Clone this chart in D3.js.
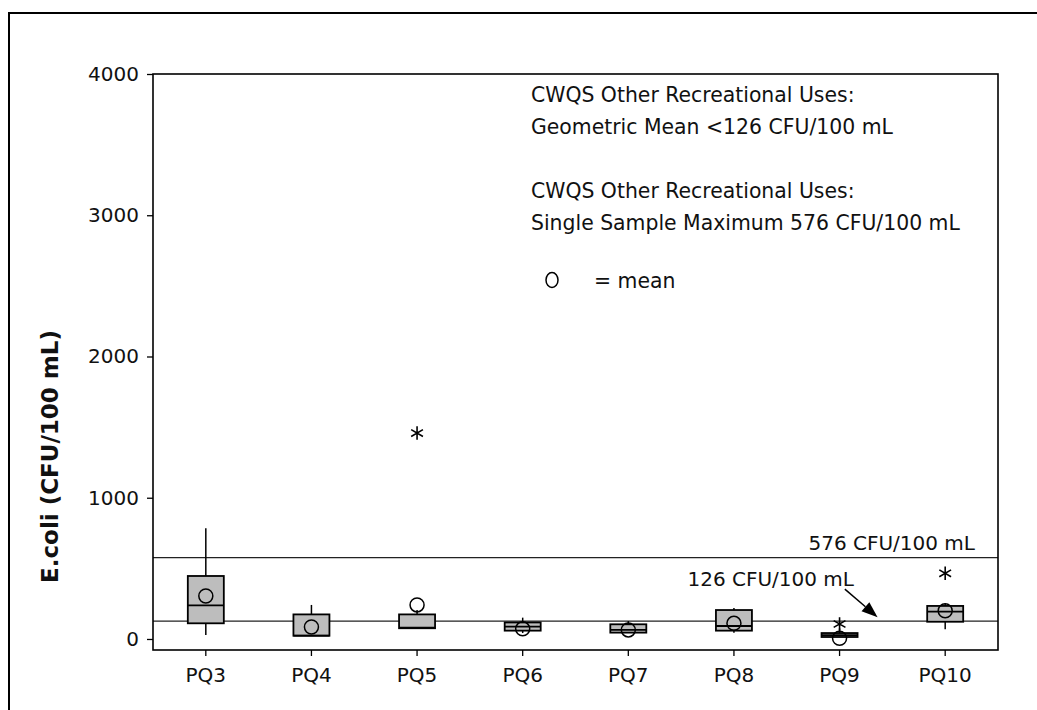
<!DOCTYPE html>
<html>
<head>
<meta charset="utf-8">
<script src="https://cdn.jsdelivr.net/npm/d3@7"></script>
<style>
  html, body { margin: 0; padding: 0; background: #fff; }
  svg { display: block; }
  text { font-family: "DejaVu Sans", Verdana, sans-serif; fill: #111; }
</style>
</head>
<body>
<svg id="chart" width="1037" height="710"></svg>
<script>
// ---- data ----
const categories   = ["PQ3", "PQ4", "PQ5", "PQ6", "PQ7", "PQ8", "PQ9", "PQ10"];
const whiskerLow   = [28, 23, 76, 42, 45, 45, 14, 69];
const q1Values     = [111, 23, 76, 59, 45, 59, 14, 122];
const medianValues = [238, 24, 80, 87, 65, 92, 28, 193];
const q3Values     = [446, 174, 174, 117, 104, 205, 42, 234];
const whiskerHigh  = [784, 241, 205, 151, 127, 219, 75, 252];
const meanValues   = [304, 85, 241, 72, 64, 111, 5, 200];
const outliers     = [{cat: "PQ5", value: 1458}, {cat: "PQ9", value: 106}, {cat: "PQ10", value: 465}];
const yTicks       = [0, 1000, 2000, 3000, 4000];
const refLines     = [126, 576];
const legendLines  = ["CWQS Other Recreational Uses:", "Geometric Mean <126 CFU/100 mL",
                      "CWQS Other Recreational Uses:", "Single Sample Maximum 576 CFU/100 mL"];
const yTitle       = "E.coli (CFU/100 mL)";

const boxes = categories.map((c, i) => ({
  cat: c, lo: whiskerLow[i], q1: q1Values[i], med: medianValues[i],
  q3: q3Values[i], hi: whiskerHigh[i], mean: meanValues[i]
}));

// ---- layout ----
const svg = d3.select("#chart");
const plot = {left: 153, right: 998, top: 74, bottom: 650};

const x = d3.scaleBand().domain(categories).range([plot.left, plot.right]).padding(0);
const y = d3.scaleLinear().domain([-78, 4000]).range([plot.bottom, plot.top]);
const cx = c => x(c) + x.bandwidth() / 2;
const boxW = 36;

// outer frame (only top & left visible)
svg.append("path")
  .attr("d", "M9,712 L9,13 L1040,13")
  .attr("fill", "none").attr("stroke", "#000").attr("stroke-width", 2);

// reference lines
svg.selectAll(".ref").data(refLines).join("line")
  .attr("x1", plot.left).attr("x2", plot.right)
  .attr("y1", d => y(d)).attr("y2", d => y(d))
  .attr("stroke", "#222").attr("stroke-width", 1.3);

// y axis
const yAxis = d3.axisLeft(y).tickValues(yTicks).tickFormat(d3.format("d"))
  .tickSize(6).tickSizeOuter(0).tickPadding(8);
const gy = svg.append("g").attr("transform", `translate(${plot.left},0)`).call(yAxis);
gy.select(".domain").remove();
gy.selectAll(".tick line").attr("stroke", "#000").attr("stroke-width", 1.3);
gy.selectAll(".tick text").style("font-family", '"DejaVu Sans", Verdana, sans-serif')
  .style("font-size", "20px").attr("fill", "#111");

// x axis
const xAxis = d3.axisBottom(x).tickSize(6).tickSizeOuter(0).tickPadding(12);
const gx = svg.append("g").attr("transform", `translate(0,${plot.bottom})`).call(xAxis);
gx.select(".domain").remove();
gx.selectAll(".tick line").attr("stroke", "#000").attr("stroke-width", 1.3);
gx.selectAll(".tick text").style("font-family", '"DejaVu Sans", Verdana, sans-serif')
  .style("font-size", "20px").attr("fill", "#111");

// plot frame
svg.append("rect")
  .attr("x", plot.left).attr("y", plot.top)
  .attr("width", plot.right - plot.left).attr("height", plot.bottom - plot.top)
  .attr("fill", "none").attr("stroke", "#000").attr("stroke-width", 1.6);

// whiskers
const g = svg.append("g");
g.selectAll(".wh").data(boxes).join("line")
  .attr("x1", d => cx(d.cat)).attr("x2", d => cx(d.cat))
  .attr("y1", d => y(d.hi)).attr("y2", d => y(d.lo))
  .attr("stroke", "#000").attr("stroke-width", 1.5);

// boxes
g.selectAll(".box").data(boxes).join("rect")
  .attr("x", d => cx(d.cat) - boxW / 2).attr("width", boxW)
  .attr("y", d => y(d.q3)).attr("height", d => Math.max(1, y(d.q1) - y(d.q3)))
  .attr("fill", "#bdbdbd").attr("stroke", "#000").attr("stroke-width", 1.8);

// medians
g.selectAll(".med").data(boxes).join("line")
  .attr("x1", d => cx(d.cat) - boxW / 2).attr("x2", d => cx(d.cat) + boxW / 2)
  .attr("y1", d => y(d.med)).attr("y2", d => y(d.med))
  .attr("stroke", "#000").attr("stroke-width", 1.8);

// means
g.selectAll(".mean").data(boxes).join("circle")
  .attr("cx", d => cx(d.cat)).attr("cy", d => y(d.mean)).attr("r", 7)
  .attr("fill", "none").attr("stroke", "#000").attr("stroke-width", 1.5);

// outliers
const star = d3.symbol().type(d3.symbolAsterisk).size(130);
g.selectAll(".out").data(outliers).join("path")
  .attr("transform", d => `translate(${cx(d.cat)},${y(d.value)})`)
  .attr("d", star).attr("fill", "none").attr("stroke", "#000").attr("stroke-width", 1.6);

// reference labels
svg.append("text").attr("x", 975).attr("y", y(576) - 8).attr("text-anchor", "end")
  .style("font-size", "20px").text("576 CFU/100 mL");
svg.append("text").attr("x", 854).attr("y", y(126) - 35).attr("text-anchor", "end")
  .style("font-size", "20px").text("126 CFU/100 mL");

// arrow
const step = x.step();
const ax1 = cx("PQ9") + 0.05 * step, ay1 = y(126) - 32;
const ax2 = cx("PQ9") + 0.36 * step, ay2 = y(126) - 4;
const ang = Math.atan2(ay2 - ay1, ax2 - ax1);
const headL = 16, headW = 6;
const bx = ax2 - headL * Math.cos(ang), by = ay2 - headL * Math.sin(ang);
svg.append("line")
  .attr("x1", ax1).attr("y1", ay1).attr("x2", bx).attr("y2", by)
  .attr("stroke", "#000").attr("stroke-width", 1.5);
svg.append("path")
  .attr("d", `M${ax2},${ay2} L${bx + headW * Math.sin(ang)},${by - headW * Math.cos(ang)} ` +
             `L${bx - headW * Math.sin(ang)},${by + headW * Math.cos(ang)} Z`)
  .attr("fill", "#000");

// legend text
svg.selectAll(".leg").data(legendLines).join("text")
  .attr("x", 531)
  .attr("y", (d, i) => [101.5, 133.5, 198, 230][i])
  .style("font-size", "20.4px").text(d => d);
svg.append("ellipse").attr("cx", 552).attr("cy", 280).attr("rx", 6).attr("ry", 7.5)
  .attr("fill", "none").attr("stroke", "#000").attr("stroke-width", 1.5);
svg.append("text").attr("x", 594).attr("y", 288).style("font-size", "20.4px").text("= mean");

// y title
svg.append("text")
  .attr("transform", `translate(58,${(y(0) + y(4000)) / 2 + 100}) rotate(-90)`)
  .attr("text-anchor", "middle")
  .style("font-size", "23px").style("font-weight", "bold").text(yTitle);
</script>
</body>
</html>
